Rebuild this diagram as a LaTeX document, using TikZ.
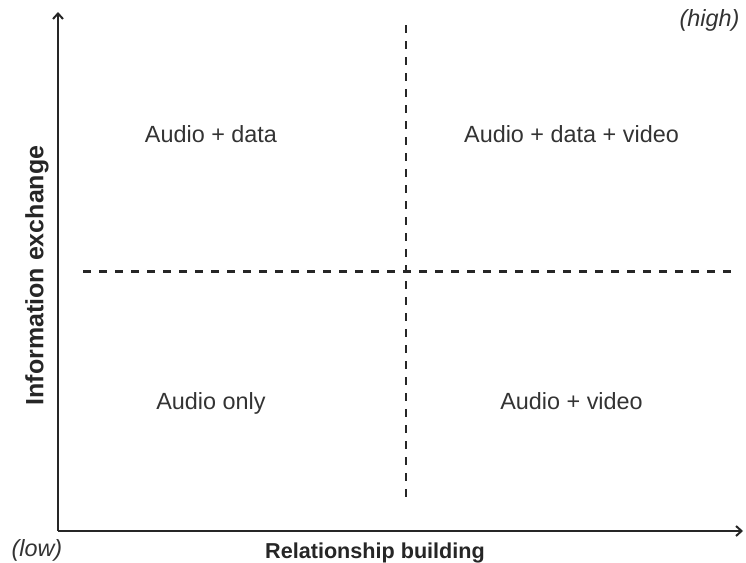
\documentclass[tikz,border=0pt]{standalone}
\usepackage{fontspec}
\setmainfont{Liberation Sans}
\usetikzlibrary{arrows.meta}

\begin{document}
\begin{tikzpicture}[
    x=1pt, y=-1pt,
    axis/.style={draw=black!85, line width=2.7pt, -{Straight Barb[length=5.5pt, width=10pt, line width=2pt]}},
    divider/.style={draw=black!85, line width=2.2pt, dash pattern=on 8pt off 8pt},
    quad/.style={text=black!80, font=\fontsize{23.4}{28}\selectfont, anchor=base},
    axislabel/.style={text=black!85, font=\bfseries\fontsize{21.6}{26}\selectfont},
    endlabel/.style={text=black!80, font=\itshape\fontsize{23.4}{28}\selectfont, anchor=base}
]
    \useasboundingbox (0,0) rectangle (746,562);

    % Axes
    \coordinate (origin) at (58,531);
    \coordinate (ytop) at (58,12);
    \coordinate (xend) at (743,531);
    \draw[axis] (origin) -- (ytop);
    \draw[axis] (origin) -- (xend);

    % Quadrant dividers
    \coordinate (vtop) at (406,25);
    \coordinate (vbot) at (406,502);
    \coordinate (hleft) at (83,271.5);
    \coordinate (hright) at (733,271.5);
    \draw[divider] (vtop) -- (vbot);
    \draw[divider] (hleft) -- (hright);

    % Quadrant labels
    \node[quad] (ad) at (211,142) {Audio + data};
    \node[quad] (adv) at (571.5,142) {Audio + data + video};
    \node[quad] (ao) at (211,409) {Audio only};
    \node[quad] (av) at (571.5,409) {Audio + video};

    % Axis labels
    \node[axislabel, anchor=base] (xlabel) at (375,558) {Relationship building};
    \node[axislabel, font=\bfseries\fontsize{25}{28}\selectfont, rotate=90] (ylabel) at (37,275.5) {Information exchange};
    \node[endlabel, anchor=base east] (high) at (743,27) {(high)};
    \node[endlabel, anchor=base west] (low) at (8,556) {(low)};

\end{tikzpicture}
\end{document}
